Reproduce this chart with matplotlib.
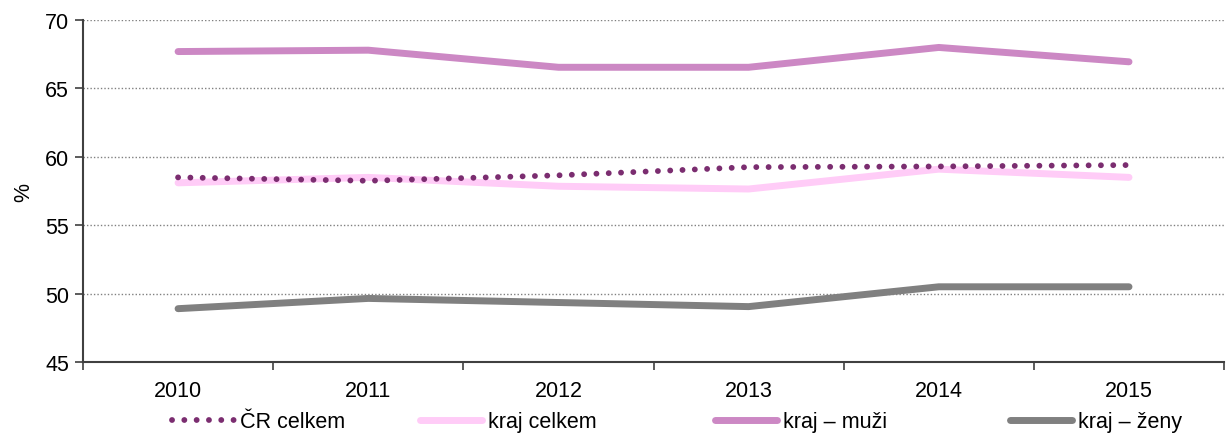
import matplotlib
matplotlib.use("Agg")
import matplotlib.pyplot as plt
import numpy as np

# data
years = ['2010', '2011', '2012', '2013', '2014', '2015']
cr_celkem = [58.5, 58.25, 58.65, 59.25, 59.3, 59.4]
kraj_celkem = [58.1, 58.5, 57.85, 57.65, 59.1, 58.5]
kraj_muzi = [67.7, 67.8, 66.55, 66.55, 68.0, 66.95]
kraj_zeny = [48.9, 49.65, 49.35, 49.05, 50.5, 50.5]

plt.rcParams['font.family'] = ['Liberation Sans', 'DejaVu Sans']

fig = plt.figure(figsize=(12.31, 4.35), dpi=100)
ax = fig.add_axes([0.0674, 0.1655, 0.927, 0.786])

x = np.arange(len(years))
line_cr, = ax.plot(x, cr_celkem, color='#7B2D70', lw=4.2,
                   linestyle=(0, (0.01, 2.1)), dash_capstyle='round',
                   label='ČR celkem', zorder=4)
line_kc, = ax.plot(x, kraj_celkem, color='#FFCCF7', lw=5,
                   solid_capstyle='round', label='kraj celkem', zorder=3)
line_km, = ax.plot(x, kraj_muzi, color='#CC88C4', lw=5,
                   solid_capstyle='round', label='kraj – muži', zorder=3)
line_kz, = ax.plot(x, kraj_zeny, color='#808080', lw=5,
                   solid_capstyle='round', label='kraj – ženy', zorder=3)

ax.set_xlim(-0.5, len(years) - 0.5)
ax.set_ylim(45, 70)
ax.set_yticks(np.arange(45, 71, 5))
ax.set_xticks(x)
ax.set_xticklabels(years)
ax.set_xticks(np.arange(-0.5, len(years), 1), minor=True)
ax.tick_params(axis='x', which='major', length=0, pad=13, labelsize=15.5)
ax.tick_params(axis='x', which='minor', length=6, width=1.2, color='#404040')
ax.tick_params(axis='y', length=6, width=1.2, color='#404040', labelsize=15.5, pad=4)

for v in [50, 55, 60, 65, 70]:
    ax.axhline(v, color='#808080', lw=1.0, linestyle=(0, (1, 1.5)), zorder=1)

for side in ['top', 'right']:
    ax.spines[side].set_visible(False)
for side in ['left', 'bottom']:
    ax.spines[side].set_color('#404040')
    ax.spines[side].set_linewidth(1.5)

ax.set_ylabel('%', fontsize=15.5, labelpad=8)

# legend entries placed individually to match the reference spacing
handles = [line_cr, line_kc, line_km, line_kz]
starts = [172, 420, 715, 1010]
for h, sx in zip(handles, starts):
    leg = fig.legend([h], [h.get_label()], loc='center left',
                     bbox_to_anchor=(sx / 1231, 0.028), frameon=False,
                     borderpad=0, borderaxespad=0, handlelength=2.9,
                     handletextpad=0.25, fontsize=15.5)

fig.savefig('out.png', dpi=100)
